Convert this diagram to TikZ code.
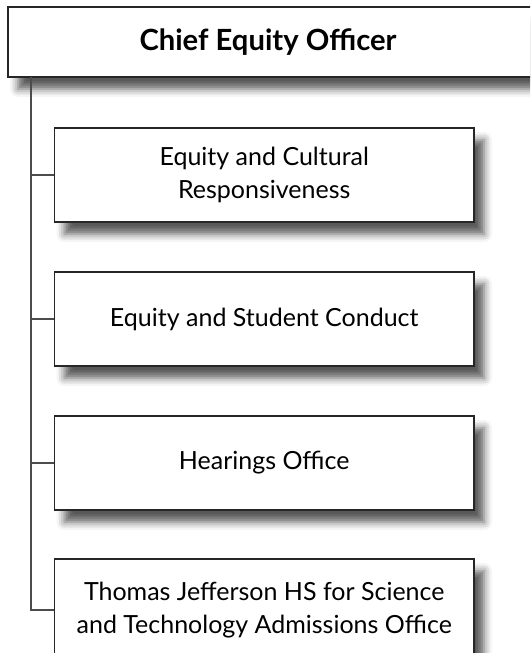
\documentclass[tikz,border=0pt]{standalone}
\usepackage{fontspec}
\setmainfont{Lato}
\usetikzlibrary{positioning, shadows.blur}

\begin{document}
\begin{tikzpicture}[x=0.5pt, y=-0.5pt,
  unit/.style={draw=black!85, line width=0.7pt, fill=white, rectangle, align=center, minimum width=209.75pt, minimum height=47pt, font=\fontsize{12.5}{16.5}\selectfont, blur shadow={shadow xshift=5pt, shadow yshift=-6pt, shadow blur radius=4pt, shadow opacity=65}},
  head/.style={unit, minimum width=276pt, minimum height=35pt, font=\fontsize{14.6}{17}\selectfont\bfseries},
  link/.style={draw=black!70, line width=0.7pt}]
\useasboundingbox (0,0) rectangle (530,653);
\clip (0,0) rectangle (530,653);

% head box runs off the right edge
\node[head] (ceo) at (284,42) {Chief Equity Officer\hspace*{16pt}};

\node[unit] (cr) at (264.25,175) {Equity and Cultural\\Responsiveness};
\node[unit] (sc) at (264.25,319) {Equity and Student Conduct};
\node[unit] (ho) at (264.25,463) {Hearings Office};
\node[unit, minimum height=51pt] (tj) at (264.25,610) {Thomas Jefferson HS for Science\\and Technology Admissions Office};

\coordinate (spine) at (31,77);
\draw[link] (spine) |- (tj.west);
\foreach \n in {cr, sc, ho}
  \draw[link] (spine |- \n.west) -- (\n.west);
\end{tikzpicture}
\end{document}
